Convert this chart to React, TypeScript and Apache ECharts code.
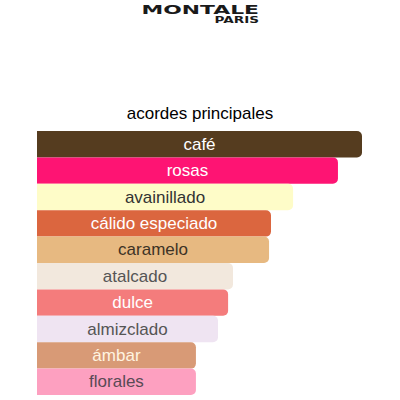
import { useEffect, useRef } from "react";
import * as echarts from "echarts";

const categories = [
  "café",
  "rosas",
  "avainillado",
  "cálido especiado",
  "caramelo",
  "atalcado",
  "dulce",
  "almizclado",
  "ámbar",
  "florales",
];
const values = [100, 92.6, 78.8, 72, 71.4, 60.3, 58.8, 55.7, 48.9, 48.9];
const barColors = [
  "#553c1f",
  "#fe1473",
  "#fefcc8",
  "#db663f",
  "#e7b981",
  "#f2e8dd",
  "#f47c7c",
  "#efe4f2",
  "#d89a76",
  "#fda0c0",
];
const labelColors = [
  "#ffffff",
  "#ffffff",
  "#333333",
  "#ffffff",
  "#3d3326",
  "#555555",
  "#ffffff",
  "#555555",
  "#fff4e0",
  "#5a4a55",
];

export default function App() {
  const ref = useRef<HTMLDivElement>(null);

  useEffect(() => {
    if (!ref.current) return;
    const chart = echarts.init(ref.current, null, { renderer: "svg" });

    chart.setOption({
      animation: false,
      backgroundColor: "#ffffff",
      title: {
        text: "acordes principales",
        left: "center",
        top: 100,
        textStyle: {
          fontFamily: "Liberation Sans",
          fontSize: 17,
          fontWeight: "normal",
          color: "#000000",
        },
      },
      graphic: [
        {
          type: "text",
          x: 259,
          y: 3,
          scaleX: 1.68,
          style: {
            text: "MONTALE",
            font: "bold 13px 'DejaVu Sans'",
            fill: "#1a1a1a",
            align: "right",
            verticalAlign: "top",
          },
        },
        {
          type: "text",
          x: 259,
          y: 15,
          scaleX: 1.6,
          style: {
            text: "PARIS",
            font: "bold 8.5px 'DejaVu Sans'",
            fill: "#1a1a1a",
            align: "right",
            verticalAlign: "top",
          },
        },
      ],
      grid: { left: 37, right: 38, top: 131, height: 264 },
      xAxis: { type: "value", min: 0, max: 100, show: false },
      yAxis: {
        type: "category",
        data: categories,
        inverse: true,
        show: false,
      },
      series: [
        {
          type: "bar",
          barCategoryGap: 0,
          data: values.map((v, i) => ({
            value: v,
            itemStyle: { color: barColors[i] },
            label: { color: labelColors[i] },
          })),
          itemStyle: { borderRadius: [0, 5, 5, 0] },
          label: {
            show: true,
            position: "inside",
            formatter: (p: any) => p.name,
            fontFamily: "Liberation Sans",
            fontSize: 17,
          },
        },
      ],
    });

    return () => chart.dispose();
  }, []);

  return (
    <div
      ref={ref}
      style={{ position: "fixed", left: 0, top: 0, width: 400, height: 400 }}
    />
  );
}
